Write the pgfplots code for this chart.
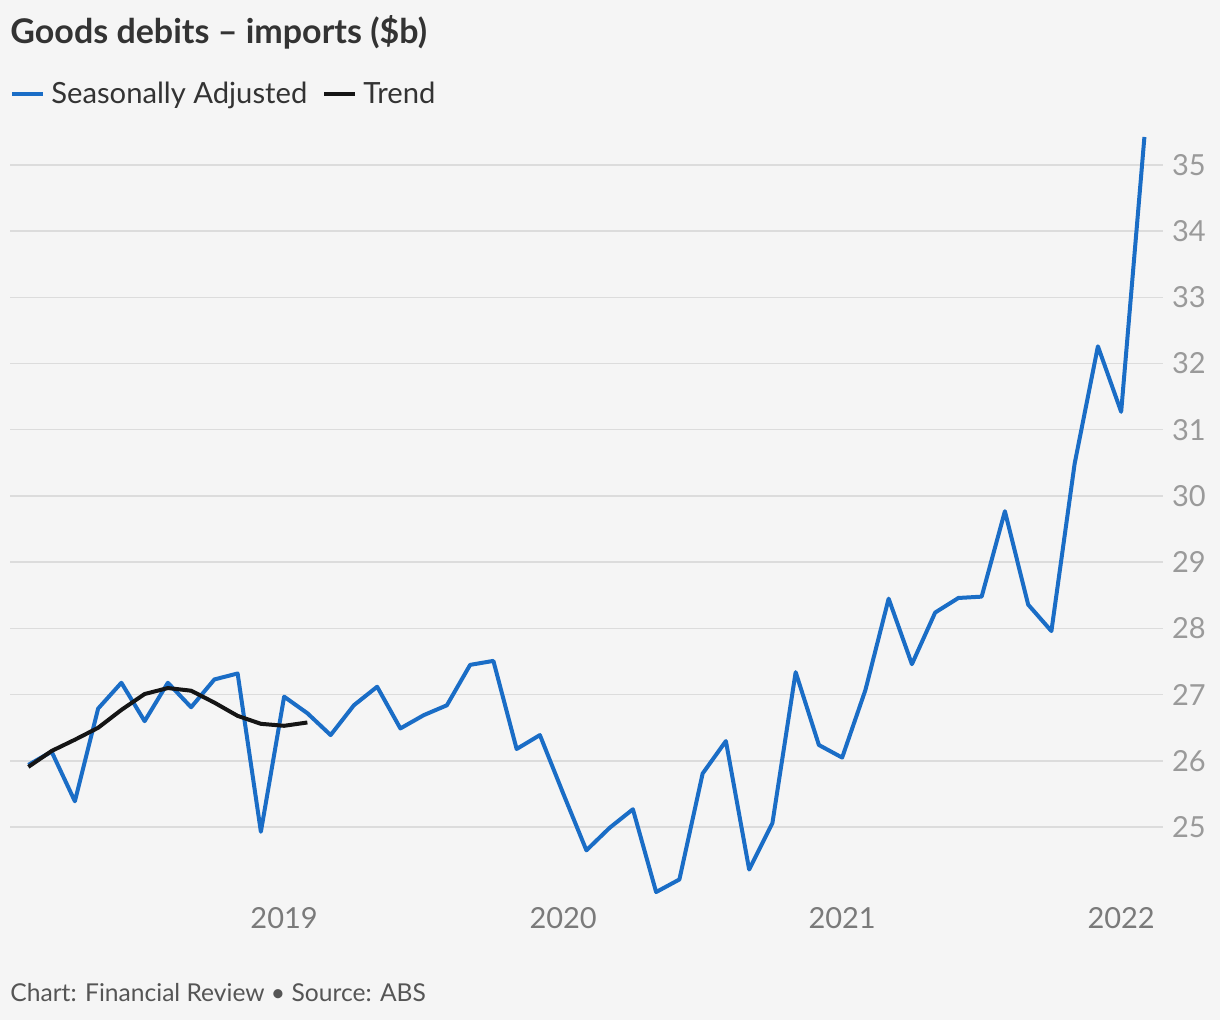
\documentclass[border=0pt]{standalone}
\usepackage{fontspec}
\setmainfont{Lato}
\usepackage{pgfplots}
\pgfplotsset{compat=1.18}
\definecolor{bg}{HTML}{F5F5F5}
\definecolor{sablue}{HTML}{1A6DC6}
\definecolor{trendc}{HTML}{151515}
\definecolor{gridc}{HTML}{DCDCDC}
\definecolor{ytickc}{HTML}{9A9A9A}
\definecolor{xtickc}{HTML}{7A7A7A}
\definecolor{titlec}{HTML}{333333}
\definecolor{footc}{HTML}{555555}
\pgfplotstableread{
i v
0 25.94
1 26.14
2 25.39
3 26.79
4 27.18
5 26.60
6 27.18
7 26.81
8 27.23
9 27.32
10 24.93
11 26.97
12 26.72
13 26.39
14 26.84
15 27.12
16 26.49
17 26.69
18 26.84
19 27.45
20 27.51
21 26.18
22 26.39
23 25.51
24 24.65
25 24.99
26 25.27
27 24.02
28 24.21
29 25.81
30 26.30
31 24.36
32 25.06
33 27.34
34 26.24
35 26.05
36 27.07
37 28.45
38 27.46
39 28.24
40 28.46
41 28.48
42 29.77
43 28.36
44 27.96
45 30.49
46 32.26
47 31.27
48 35.42
}\satable
\pgfplotstableread{
i v
0 25.91
1 26.15
2 26.32
3 26.50
4 26.77
5 27.01
6 27.10
7 27.06
8 26.88
9 26.68
10 26.56
11 26.53
12 26.58
}\trtable
\begin{document}
\begin{tikzpicture}
\fill[bg] (0,0) rectangle (610pt,-510pt);
\node[anchor=west, font=\fontsize{17}{20}\selectfont\bfseries, text=titlec, inner sep=0pt] at (5pt,-16pt) {Goods debits – imports (\$b)};
\begin{axis}[
  at={(5pt,-450pt)}, anchor=south west,
  scale only axis, width=576.5pt, height=382.5pt,
  xmin=-0.79, xmax=48.8, ymin=23.9, ymax=35.45,
  axis line style={draw=none},
  tick style={draw=none},
  ytick={25,26,...,35},
  ymajorgrids, grid style={gridc, line width=0.75pt},
  yticklabel pos=right,
  yticklabel style={anchor=west, xshift=1pt, text=ytickc, font=\fontsize{14.5}{16}\selectfont},
  xtick={11,23,35,47}, xticklabels={2019,2020,2021,2022},
  xticklabel style={text=xtickc, font=\fontsize{14.5}{16}\selectfont},
  /pgf/number format/assume math mode=true,
  legend columns=-1,
  legend style={draw=none, fill=none, at={(0,1)}, anchor=west, yshift=20.5pt,
    inner sep=0pt, font=\fontsize{14.6}{16}\selectfont, text=titlec,
    nodes={inner sep=0pt},
    /tikz/every odd column/.append style={column sep=3pt},
    /tikz/every even column/.append style={column sep=7.5pt}},
  legend image code/.code={\draw[#1, line width=2pt] (0pt,0pt) -- (15.5pt,0pt);},
  clip=false,
]
\addplot[sablue, line width=2pt, line join=round] table[x=i, y=v] {\satable};
\addlegendentry{Seasonally Adjusted}
\addplot[trendc, line width=2pt, line join=round] table[x=i, y=v] {\trtable};
\addlegendentry{Trend}
\end{axis}
\node[anchor=west, font=\fontsize{12.3}{14}\selectfont, text=footc, inner sep=0pt] at (5pt,-496.5pt) {Chart: Financial Review • Source: ABS};
\end{tikzpicture}
\end{document}
